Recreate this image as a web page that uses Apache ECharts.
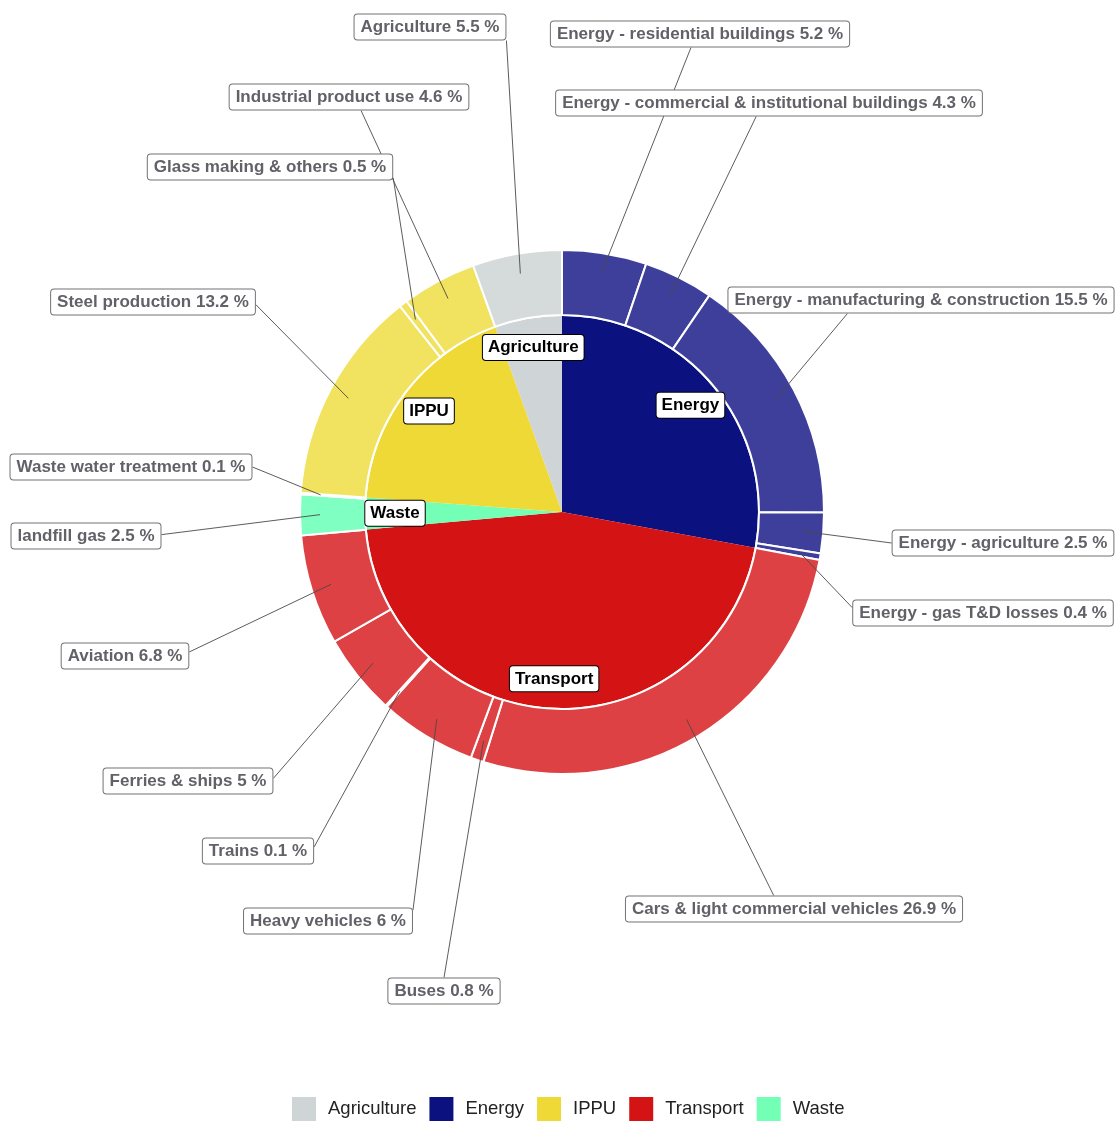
<!DOCTYPE html>
<html>
<head>
<meta charset="utf-8">
<script src="https://cdn.jsdelivr.net/npm/echarts@6/dist/echarts.min.js"></script>
<style>
  html, body { margin: 0; padding: 0; background: #ffffff; }
  #chart { width: 1117px; height: 1122px; }
</style>
</head>
<body>
<div id="chart"></div>
<script>
// Emission shares by sector (inner ring) and sub-sector (outer ring), in %
const categories = ['Energy', 'Transport', 'Waste', 'IPPU', 'Agriculture'];
const categoryShares = [27.9, 45.6, 2.6, 18.3, 5.5];
const legendOrder = ['Agriculture', 'Energy', 'IPPU', 'Transport', 'Waste'];

const subsectors = [
  'Energy - residential buildings',
  'Energy - commercial & institutional buildings',
  'Energy - manufacturing & construction',
  'Energy - agriculture',
  'Energy - gas T&D losses',
  'Cars & light commercial vehicles',
  'Buses',
  'Heavy vehicles',
  'Trains',
  'Ferries & ships',
  'Aviation',
  'landfill gas',
  'Waste water treatment',
  'Steel production',
  'Glass making & others',
  'Industrial product use',
  'Agriculture'
];
const subsectorShares = [5.2, 4.3, 15.5, 2.5, 0.4, 26.9, 0.8, 6, 0.1, 5, 6.8, 2.5, 0.1, 13.2, 0.5, 4.6, 5.5];
const subsectorCategory = [
  'Energy', 'Energy', 'Energy', 'Energy', 'Energy',
  'Transport', 'Transport', 'Transport', 'Transport', 'Transport', 'Transport',
  'Waste', 'Waste',
  'IPPU', 'IPPU', 'IPPU',
  'Agriculture'
];

// Colours per sector
const innerColors = {
  Energy: '#0c1180', Transport: '#d41414', Waste: '#74ffb6', IPPU: '#efd937', Agriculture: '#cfd4d6'
};
const outerColors = {
  Energy: '#3d3f9b', Transport: '#dd4144', Waste: '#80ffc2', IPPU: '#f1e25f', Agriculture: '#d5dada'
};

// Callout layout: box centre (px) and where the leader meets the box
// (fraction of box width / height from its top-left corner)
const calloutSpots = {
  'Agriculture': { at: [430, 27], attach: [1, 1] },
  'Energy - residential buildings': { at: [700, 34], attach: [0.47, 1] },
  'Energy - commercial & institutional buildings': { at: [769, 103], attach: [0.47, 1] },
  'Industrial product use': { at: [349, 97], attach: [0.55, 1] },
  'Glass making & others': { at: [270, 167], attach: [1, 0.9] },
  'Steel production': { at: [153, 302], attach: [1, 0.6] },
  'Energy - manufacturing & construction': { at: [921, 300], attach: [0.31, 1] },
  'Waste water treatment': { at: [131, 467], attach: [1, 0.5] },
  'landfill gas': { at: [86, 536], attach: [1, 0.45] },
  'Energy - agriculture': { at: [1003, 543], attach: [0, 0.5] },
  'Energy - gas T&D losses': { at: [983, 613], attach: [0, 0.3] },
  'Aviation': { at: [125, 656], attach: [1, 0.35] },
  'Ferries & ships': { at: [188, 781], attach: [1, 0.4] },
  'Trains': { at: [258, 851], attach: [1, 0.35] },
  'Heavy vehicles': { at: [328, 921], attach: [1, 0.1] },
  'Buses': { at: [444, 991], attach: [0.5, 0] },
  'Cars & light commercial vehicles': { at: [794, 909], attach: [0.44, 0] }
};

const FONT = '"Liberation Sans", Arial, sans-serif';
const CENTER = [562, 512];
const ANCHOR_R = 242;   // leaders start inside the sub-sector ring
const clear = 'rgba(0,0,0,0)';

// mid angle of each sub-sector slice (clockwise from 12 o'clock)
const subsectorTotal = subsectorShares.reduce((a, b) => a + b, 0);
const midAngles = [];
let running = 0;
subsectorShares.forEach(v => {
  midAngles.push((running + v / 2) / subsectorTotal * Math.PI * 2);
  running += v;
});

const innerData = categories.map((c, i) => ({
  name: c, value: categoryShares[i], itemStyle: { color: innerColors[c] }
}));
const outerData = subsectors.map((s, i) => ({
  name: s, value: subsectorShares[i], itemStyle: { color: outerColors[subsectorCategory[i]] }
}));
const calloutData = subsectors.map((s, i) => ({ name: s, value: subsectorShares[i] }));
const innerLabelData = categories.map((c, i) => ({ name: c, value: categoryShares[i] }));

const chart = echarts.init(document.getElementById('chart'), null, { renderer: 'canvas' });

chart.setOption({
  animation: false,
  backgroundColor: '#ffffff',
  legend: {
    data: legendOrder,
    left: 287,
    top: 1092,
    orient: 'horizontal',
    icon: 'rect',
    itemWidth: 24,
    itemHeight: 24,
    itemGap: 13,
    selectedMode: false,
    textStyle: { fontFamily: FONT, fontSize: 18.5, color: '#222222', padding: [0, 0, 0, 7] }
  },
  series: [
    {
      // sector pie
      type: 'pie',
      name: 'sector',
      center: CENTER,
      radius: [0, 196],
      startAngle: 90,
      clockwise: true,
      silent: true,
      z: 2,
      label: { show: false },
      labelLine: { show: false },
      itemStyle: { borderWidth: 0 },
      data: innerData
    },
    {
      // sub-sector ring
      type: 'pie',
      name: 'subsector',
      center: CENTER,
      radius: [197, 262],
      startAngle: 90,
      clockwise: true,
      silent: true,
      z: 2,
      label: { show: false },
      labelLine: { show: false },
      itemStyle: { borderColor: '#ffffff', borderWidth: 2 },
      data: outerData
    },
    {
      // callouts for the sub-sector ring
      type: 'pie',
      name: 'callouts',
      center: CENTER,
      radius: [0, ANCHOR_R],
      startAngle: 90,
      clockwise: true,
      silent: true,
      avoidLabelOverlap: false,
      minShowLabelAngle: 0,
      z: 4,
      itemStyle: { color: clear, borderWidth: 0 },
      label: {
        show: true,
        position: 'outside',
        overflow: 'none',
        formatter: '{b} {c} %',
        fontFamily: FONT,
        fontSize: 17,
        fontWeight: 'bold',
        color: '#636168',
        backgroundColor: '#ffffff',
        borderColor: '#737373',
        borderWidth: 1,
        borderRadius: 3,
        padding: [4, 6, 4, 6]
      },
      labelLine: {
        show: true,
        length: 6,
        length2: 0,
        smooth: false,
        lineStyle: { color: '#4a4a4a', width: 0.9 }
      },
      labelLayout: function (params) {
        const i = params.dataIndex;
        const spot = calloutSpots[subsectors[i]];
        const w = params.labelRect.width;
        const h = params.labelRect.height;
        const a = midAngles[i];
        const start = [CENTER[0] + ANCHOR_R * Math.sin(a), CENTER[1] - ANCHOR_R * Math.cos(a)];
        const end = [
          spot.at[0] - w / 2 + spot.attach[0] * w,
          spot.at[1] - h / 2 + spot.attach[1] * h
        ];
        return {
          x: spot.at[0],
          y: spot.at[1],
          align: 'center',
          verticalAlign: 'middle',
          labelLinePoints: [start, end]
        };
      },
      data: calloutData
    },
    {
      // sector names inside the pie
      type: 'pie',
      name: 'sectorNames',
      center: CENTER,
      radius: [132, 196],
      startAngle: 90,
      clockwise: true,
      silent: true,
      avoidLabelOverlap: false,
      z: 5,
      itemStyle: { color: clear, borderWidth: 0 },
      label: {
        show: true,
        position: 'inside',
        overflow: 'none',
        rotate: 0,
        formatter: '{b}',
        fontFamily: FONT,
        fontSize: 17,
        fontWeight: 'bold',
        color: '#000000',
        backgroundColor: '#ffffff',
        borderColor: '#000000',
        borderWidth: 1,
        borderRadius: 3,
        padding: [4, 5, 4, 5]
      },
      labelLine: { show: false },
      data: innerLabelData
    }
  ]
});
</script>
</body>
</html>
